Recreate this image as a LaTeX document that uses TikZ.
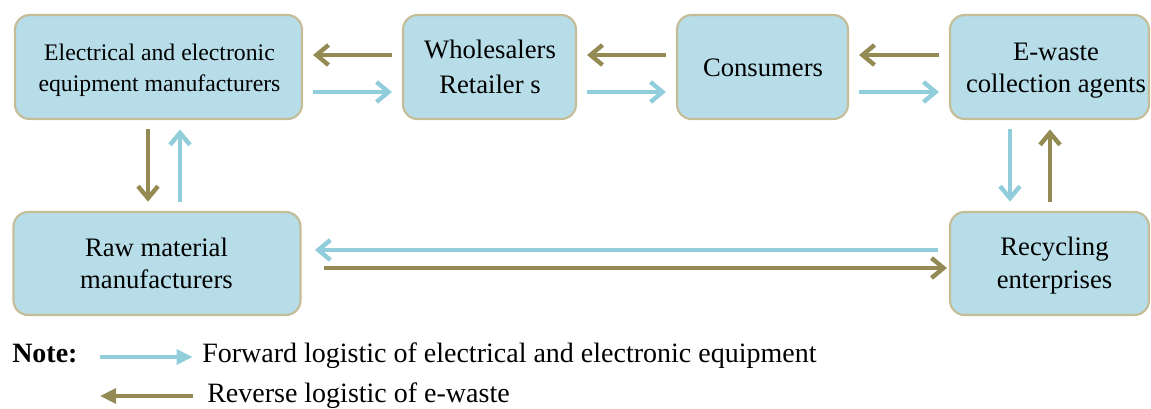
\documentclass[tikz,border=0pt]{standalone}
\usepackage{fontspec}
\setmainfont{Liberation Serif}
\usetikzlibrary{arrows.meta,calc}

\definecolor{boxfill}{HTML}{B7DDE8}
\definecolor{boxedge}{HTML}{C4BD97}
\definecolor{fwdcol}{HTML}{92CDDC}
\definecolor{revcol}{HTML}{948A54}

\tikzset{
  actor/.style={draw=boxedge, line width=1.6pt, fill=boxfill, rounded corners=11pt, inner sep=0pt},
  txt/.style={anchor=base, inner sep=0pt, font=\fontsize{20}{24}\selectfont},
  smalltxt/.style={txt, font=\fontsize{17.8}{22}\selectfont},
  fwd/.style={draw=fwdcol, line width=3.3pt, -{Straight Barb[length=9pt,width=15pt]}},
  rev/.style={draw=revcol, line width=3.3pt, -{Straight Barb[length=9pt,width=15pt]}},
  fwdleg/.style={draw=fwdcol, line width=3pt, -{Triangle[length=12pt,width=11pt]}},
  revleg/.style={draw=revcol, line width=3pt, -{Triangle[length=12pt,width=11pt]}},
  legtext/.style={anchor=base west, inner sep=0pt, font=\fontsize{21}{25}\selectfont}
}

\begin{document}
\begin{tikzpicture}[x=0.75pt,y=-0.75pt]
\useasboundingbox (0,0) rectangle (1151,408);

% actors of the supply chain
\node[actor, minimum width=215.25pt, minimum height=78pt]    (b1) at (158.5,67) {};
\node[actor, minimum width=129.75pt, minimum height=78pt]    (b2) at (489.5,67) {};
\node[actor, minimum width=128.25pt, minimum height=78pt]    (b3) at (762.5,67) {};
\node[actor, minimum width=149.25pt, minimum height=78pt]    (b4) at (1049.5,67) {};
\node[actor, minimum width=215.25pt, minimum height=77.25pt] (b5) at (157,263.5) {};
\node[actor, minimum width=149.25pt, minimum height=77.25pt] (b6) at (1049.5,263.5) {};

% box captions, one node per line
\node[smalltxt] (b1a) at ($(b1.north)+(1,46.7)$) {Electrical and electronic};
\node[smalltxt] (b1b) at ($(b1.north)+(1,78)$)   {equipment manufacturers};
\node[txt] (b2a) at ($(b2.north)+(0.5,45)$) {Wholesalers};
\node[txt] (b2b) at ($(b2.north)+(0.5,80)$) {Retailer s};
\node[txt] (b3a) at ($(b3.north)+(0.5,63)$) {Consumers};
\node[txt] (b4a) at ($(b4.north)+(6.5,47)$) {E-waste};
\node[txt] (b4b) at ($(b4.north)+(6.5,79)$) {collection agents};
\node[txt] (b5a) at ($(b5.north)+(-0.5,46)$) {Raw material};
\node[txt] (b5b) at ($(b5.north)+(-0.5,78)$) {manufacturers};
\node[txt] (b6a) at ($(b6.north)+(5,45)$) {Recycling};
\node[txt] (b6b) at ($(b6.north)+(5,78)$) {enterprises};

% top row: reverse flow above, forward flow below
\draw[rev, shorten <=7.5pt, shorten >=7.5pt] ($(b2.west)+(0,-12)$) -- ($(b1.east)+(0,-12)$);
\draw[fwd, shorten <=7.5pt, shorten >=7.5pt] ($(b1.east)+(0,25)$) -- ($(b2.west)+(0,25)$);
\draw[rev, shorten <=7.5pt, shorten >=7.5pt] ($(b3.west)+(0,-12)$) -- ($(b2.east)+(0,-12)$);
\draw[fwd, shorten <=7.5pt, shorten >=7.5pt] ($(b2.east)+(0,25)$) -- ($(b3.west)+(0,25)$);
\draw[rev, shorten <=7.5pt, shorten >=7.5pt] ($(b4.west)+(0,-12)$) -- ($(b3.east)+(0,-12)$);
\draw[fwd, shorten <=7.5pt, shorten >=7.5pt] ($(b3.east)+(0,25)$) -- ($(b4.west)+(0,25)$);

% left column
\draw[rev, shorten <=7pt, shorten >=7pt] ($(b1.south)+(-10.5,0)$) -- ($(b5.north)+(-9,0)$);
\draw[fwd, shorten <=7pt, shorten >=7pt] ($(b5.north)+(23,0)$) -- ($(b1.south)+(21.5,0)$);

% right column
\draw[fwd, shorten <=7pt, shorten >=7pt] ($(b4.south)+(-39.5,0)$) -- ($(b6.north)+(-39.5,0)$);
\draw[rev, shorten <=7pt, shorten >=7pt] ($(b6.north)+(0.5,0)$) -- ($(b4.south)+(0.5,0)$);

% bottom row
\draw[fwd, shorten <=8pt, shorten >=10pt] ($(b6.west)+(0,-13.5)$) -- ($(b5.east)+(0,-13.5)$);
\draw[rev, shorten <=17pt, shorten >=1.5pt] ($(b5.east)+(0,4.5)$) -- ($(b6.west)+(0,4.5)$);

% legend
\node[legtext, font=\bfseries\fontsize{21}{25}\selectfont] (note) at (12,362) {Note:};
\node[legtext] (ftext) at (202,362) {Forward logistic of electrical and electronic equipment};
\node[legtext] (rtext) at (207,402) {Reverse logistic of e-waste};
\coordinate (fstart) at (100,357);
\coordinate (rend) at (100,396);
\draw[fwdleg, shorten >=7pt] (fstart) -- (fstart -| ftext.west);
\draw[revleg, shorten <=10.5pt] (rend -| rtext.west) -- (rend);
\end{tikzpicture}
\end{document}
